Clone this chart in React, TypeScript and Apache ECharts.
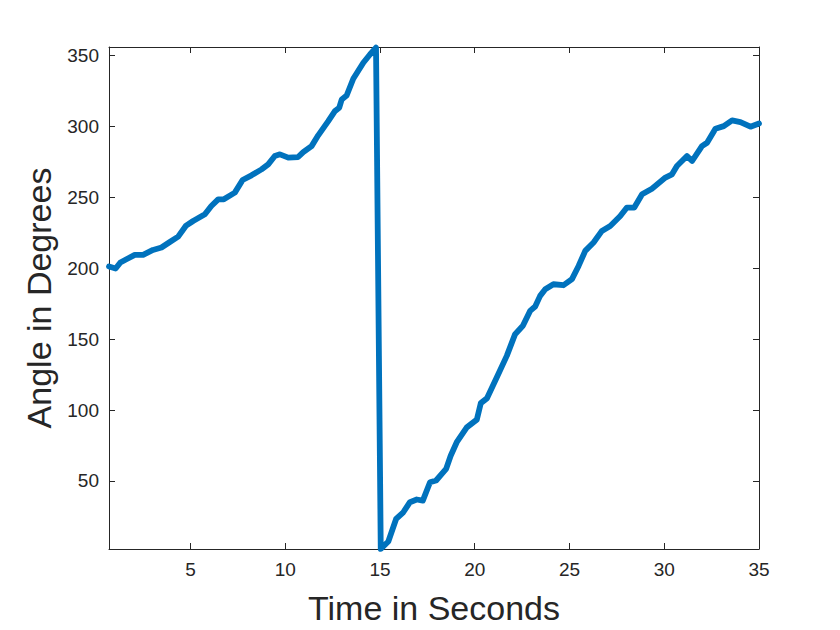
import React, { useEffect, useRef } from "react";
import * as echarts from "echarts";

const timeSeconds = [
  0.7, 1.05, 1.3, 1.62, 2.06, 2.5, 3.02, 3.47, 3.91, 4.35, 4.75, 5.14, 5.76, 6.1, 6.46, 6.76,
  7.34, 7.75, 8.22, 8.75, 9.1, 9.45, 9.72, 10.16, 10.68, 10.95, 11.39, 11.74, 12.27, 12.62,
  12.85, 12.98, 13.24, 13.59, 14.12, 14.47, 14.79,
  15.04, 15.44, 15.85, 16.23, 16.58, 16.94, 17.26, 17.64, 17.96, 18.49, 18.73, 19.05, 19.58,
  20.11, 20.32, 20.64, 21.16, 21.69, 22.13, 22.54, 22.92, 23.19, 23.45, 23.72, 24.15, 24.68,
  25.13, 25.48, 25.83, 26.27, 26.71, 27.15, 27.68, 28.03, 28.42, 28.83, 29.35, 30.06, 30.41,
  30.67, 31.2, 31.47, 31.99, 32.26, 32.7, 33.14, 33.58, 34.02, 34.55, 35.0,
];

const angleDegrees = [
  201.2, 199.8, 204, 206.3, 209.4, 209.4, 212.9, 214.6, 218.5, 222.3, 229.8, 233.3, 238, 243.9,
  248.6, 248.6, 253.3, 262.2, 265.5, 269.7, 273.2, 279.1, 280.3, 278, 278.4, 281.9, 286.1,
  293.7, 303.7, 310.8, 313.2, 319, 321.8, 333.6, 344.9, 350.7, 355.6,
  2.1, 7.3, 23.2, 27.9, 35, 36.9, 36.1, 49.1, 50.3, 58.5, 67.8, 77.3, 87.8, 93.2, 104.9, 108.2,
  123, 138.2, 153.5, 159.4, 169.9, 173, 180.5, 185.2, 188.7, 188, 192.3, 201.6, 212.2, 218.1,
  226.3, 229.8, 236.8, 242.8, 242.8, 252.1, 256.1, 263.9, 266.2, 272.1, 279.1, 275.6, 286.1,
  288.5, 298.4, 300.2, 304.2, 303, 299.8, 302.1,
];

const xTicks = [5, 10, 15, 20, 25, 30, 35];
const yTicks = [50, 100, 150, 200, 250, 300, 350];

const X_MIN = 0.7;
const X_MAX = 35;
const Y_MIN = 2;
const Y_MAX = 356;

const FONT = "'Liberation Sans', Arial, Helvetica, sans-serif";
const AXIS_COLOR = "#262626";

export default function App() {
  const ref = useRef<HTMLDivElement>(null);

  useEffect(() => {
    if (!ref.current) return;
    const chart = echarts.init(ref.current, null, { renderer: "svg" });

    const axisLine = { show: true, onZero: false, lineStyle: { color: AXIS_COLOR, width: 1 } };
    const tickStyle = (vals: number[]) => ({
      show: true,
      inside: true,
      length: 6,
      lineStyle: { color: AXIS_COLOR, width: 1 },
      customValues: vals,
    });

    chart.setOption({
      animation: false,
      backgroundColor: "#ffffff",
      grid: { left: 109, top: 47, right: 81, bottom: 80, containLabel: false },
      xAxis: [
        {
          type: "value",
          min: X_MIN,
          max: X_MAX,
          position: "bottom",
          axisLine,
          axisTick: tickStyle(xTicks),
          splitLine: { show: false },
          axisLabel: {
            show: true,
            customValues: xTicks,
            color: AXIS_COLOR,
            fontSize: 19,
            fontFamily: FONT,
            margin: 11,
          },
          name: "Time in Seconds",
          nameLocation: "middle",
          nameGap: 42,
          nameTextStyle: { fontSize: 34, fontFamily: FONT, color: AXIS_COLOR },
        },
        {
          type: "value",
          min: X_MIN,
          max: X_MAX,
          position: "top",
          axisLine,
          axisTick: tickStyle(xTicks),
          splitLine: { show: false },
          axisLabel: { show: false },
        },
      ],
      yAxis: [
        {
          type: "value",
          min: Y_MIN,
          max: Y_MAX,
          position: "left",
          axisLine,
          axisTick: tickStyle(yTicks),
          splitLine: { show: false },
          axisLabel: {
            show: true,
            customValues: yTicks,
            color: AXIS_COLOR,
            fontSize: 19,
            fontFamily: FONT,
            margin: 10,
          },
          name: "Angle in Degrees",
          nameLocation: "middle",
          nameGap: 51,
          nameTextStyle: { fontSize: 34, fontFamily: FONT, color: AXIS_COLOR },
        },
        {
          type: "value",
          min: Y_MIN,
          max: Y_MAX,
          position: "right",
          axisLine,
          axisTick: tickStyle(yTicks),
          splitLine: { show: false },
          axisLabel: { show: false },
        },
      ],
      series: [
        {
          type: "line",
          xAxisIndex: 0,
          yAxisIndex: 0,
          data: timeSeconds.map((t, i) => [t, angleDegrees[i]]),
          showSymbol: false,
          symbol: "none",
          clip: false,
          lineStyle: { color: "#0072BD", width: 5.8, cap: "round", join: "round" },
        },
      ],
    });

    return () => chart.dispose();
  }, []);

  return <div ref={ref} style={{ width: 840, height: 630, margin: -8 }} />;
}
